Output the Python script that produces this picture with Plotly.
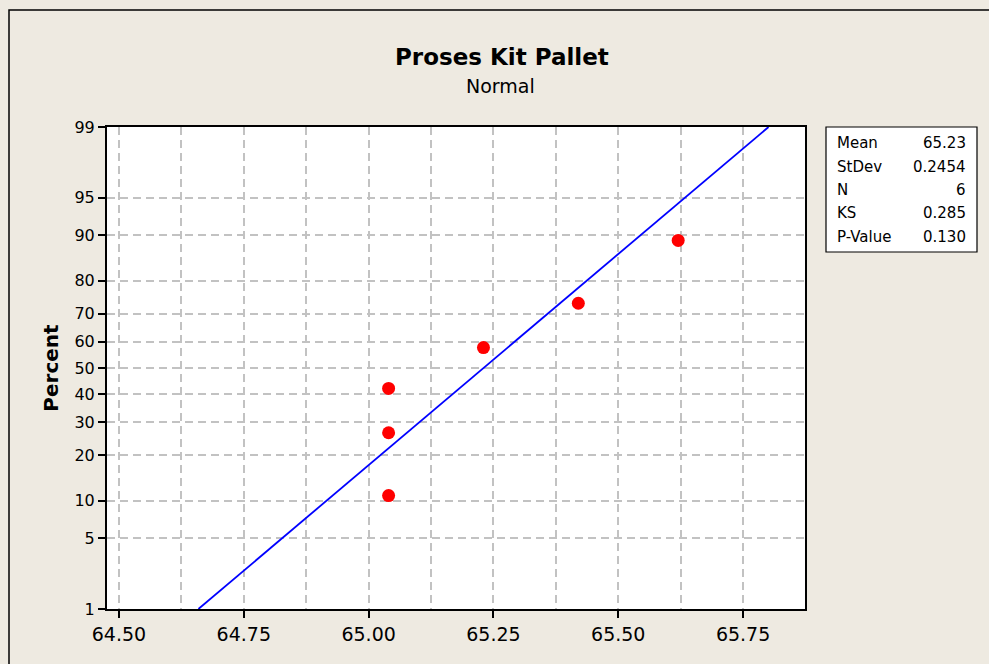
import plotly.graph_objects as go
from statistics import NormalDist

# ---- data ----
x_values = [65.04, 65.04, 65.04, 65.23, 65.42, 65.62]
percent_values = [10.9, 26.6, 42.2, 57.8, 73.4, 89.1]
fit_mean = 65.23
fit_stdev = 0.2454
line_percents = [1, 99]
y_tick_labels = [1, 5, 10, 20, 30, 40, 50, 60, 70, 80, 90, 95, 99]
x_tick_vals = [64.50, 64.75, 65.00, 65.25, 65.50, 65.75]
stat_labels = ["Mean", "StDev", "N", "KS", "P-Value"]
stat_values = ["65.23", "0.2454", "6", "0.285", "0.130"]
title_text = "Proses Kit Pallet"
subtitle_text = "Normal"

nd = NormalDist()
def z(p):
    return nd.inv_cdf(p / 100.0)

FONT = "DejaVu Sans"
BG = "#EEEAE1"
GRID = "#C2C2C2"

fig = go.Figure()

# fitted line
line_z = [z(p) for p in line_percents]
line_x = [fit_mean + zz * fit_stdev for zz in line_z]
fig.add_trace(go.Scatter(x=line_x, y=line_z, mode="lines",
                         line=dict(color="#0000FF", width=1.8),
                         hoverinfo="skip", showlegend=False))

fig.add_trace(go.Scatter(x=x_values, y=[z(p) for p in percent_values],
                         mode="markers",
                         marker=dict(color="#FF0000", size=13, line=dict(width=0)),
                         showlegend=False))

# layout geometry (pixels)
W, H = 989, 664
L, R, T, B = 107, 805, 127, 609
pw, ph = R - L, B - T
def px(x): return (x - L) / pw
def py(y): return (B - y) / ph

fig.update_layout(
    width=W, height=H,
    margin=dict(l=L, r=W - R, t=T, b=H - B, pad=0),
    paper_bgcolor=BG, plot_bgcolor="white",
    font=dict(family=FONT, color="black"),
    showlegend=False,
)

fig.update_xaxes(
    range=[64.476, 65.874],
    tickvals=x_tick_vals, ticktext=[f"{v:.2f}" for v in x_tick_vals],
    tickfont=dict(size=19, family=FONT),
    ticks="outside", ticklen=7, tickwidth=1.5, tickcolor="black",
    showline=True, linecolor="black", linewidth=2, mirror=True,
    showgrid=True, gridcolor=GRID, gridwidth=1.6, griddash="8px,5px",
    minor=dict(tickvals=[64.625 + 0.25 * i for i in range(5)], showgrid=True,
               gridcolor=GRID, gridwidth=1.6, griddash="8px,5px", ticks=""),
    zeroline=False,
)
fig.update_yaxes(
    range=[z(1), z(99)],
    tickvals=[z(p) for p in y_tick_labels], ticktext=[str(p) for p in y_tick_labels],
    tickfont=dict(size=16, family=FONT),
    ticks="outside", ticklen=7, tickwidth=1.5, tickcolor="black",
    showline=True, linecolor="black", linewidth=2, mirror=True,
    showgrid=True, gridcolor=GRID, gridwidth=1.6, griddash="8px,5px",
    zeroline=False,
    title=dict(text="<b>Percent</b>", font=dict(size=20, family=FONT), standoff=10),
)

# outer frame (left and top edges)
fig.add_shape(type="rect", xref="paper", yref="paper",
              x0=px(9), x1=px(1100), y0=py(10), y1=py(800),
              line=dict(color="black", width=1.5), fillcolor="rgba(0,0,0,0)", layer="below")

# stats box
fig.add_shape(type="rect", xref="paper", yref="paper",
              x0=px(826), x1=px(977), y0=py(127), y1=py(252),
              line=dict(color="black", width=1.2), fillcolor="white")
row_y = [143, 167, 190, 213, 237]
for lab, val, ry in zip(stat_labels, stat_values, row_y):
    fig.add_annotation(xref="paper", yref="paper", x=px(835), y=py(ry), text=lab,
                       showarrow=False, xanchor="left", yanchor="middle",
                       font=dict(size=15, family=FONT))
    fig.add_annotation(xref="paper", yref="paper", x=px(968), y=py(ry), text=val,
                       showarrow=False, xanchor="right", yanchor="middle",
                       font=dict(size=15, family=FONT))

# titles
fig.add_annotation(xref="paper", yref="paper", x=px(502), y=py(57),
                   text=f"<b>{title_text}</b>", showarrow=False,
                   xanchor="center", yanchor="middle", font=dict(size=23, family=FONT))
fig.add_annotation(xref="paper", yref="paper", x=px(500), y=py(86),
                   text=subtitle_text, showarrow=False,
                   xanchor="center", yanchor="middle", font=dict(size=19, family=FONT))

fig.write_html("out.html", config={"displayModeBar": False},
               post_script="document.body.style.margin='0';")
